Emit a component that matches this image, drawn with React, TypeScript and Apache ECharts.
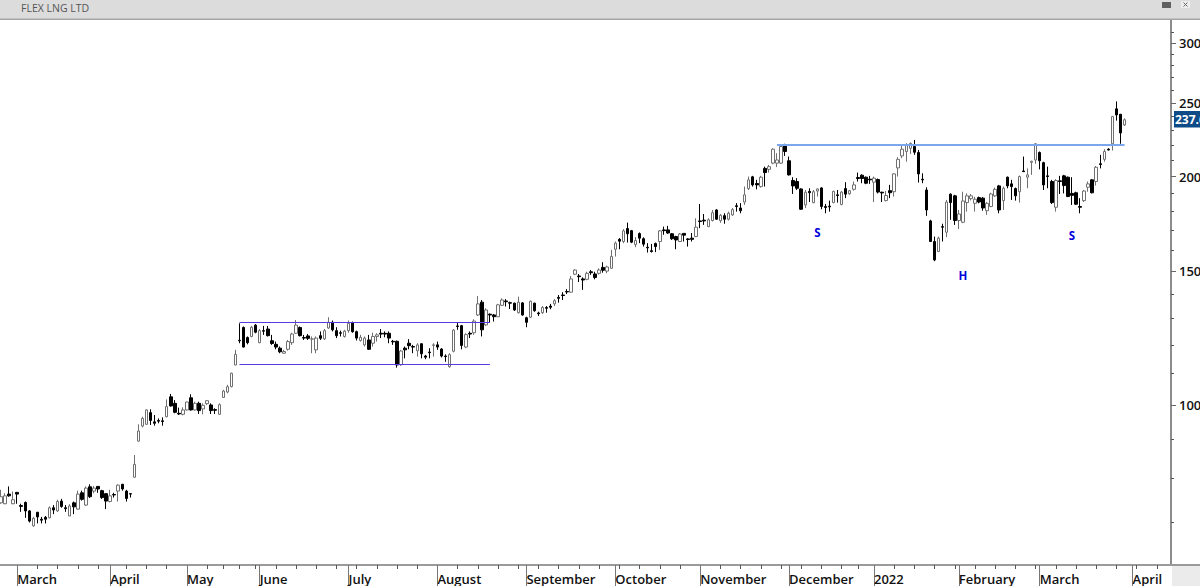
import React, { useEffect, useRef } from "react";
import * as echarts from "echarts";

const highs = [
  77.3,76.5,78.1,76.9,76.8,74.1,74.6,72.7,71.2,72.3,
  71.2,71.4,73.5,73.8,75,75.2,73.8,74,74.6,77.1,
  77.1,78.1,78.6,78.2,78.2,77.3,76.5,77.3,76.6,78.6,
  78.7,77.3,76.5,85.9,94.3,96.5,98.7,98.7,97,96,
  96.3,101.7,103.4,101.5,99.2,99.3,101,103.3,101,101,
  100.5,101.5,100.5,99,100.5,104.7,106.3,110.3,118.2,128.1,
  126.9,123.1,127.1,127.8,125.9,127.1,127.1,123.7,121.2,119.4,
  118.2,121.8,124.5,129.4,126.9,123.7,124,123.1,123.1,125,
  125.9,130.5,129.2,126.6,125.3,125.6,129.2,128.8,125.3,123.7,
  123.1,123.7,124.5,124.3,125.9,125,125,121.8,121.6,118.2,
  119.4,122.1,120,120.6,120.6,116.4,118.8,120.6,121.2,118.8,
  116.6,117,125.9,128.5,127.5,124.3,125,129.7,139.2,137.5,
  134.1,132,131.8,135.9,138.2,137.9,136.8,136.4,138.9,136.6,
  130.7,137.2,136.4,132.7,135,135,135.9,137.9,139.6,140.8,
  142.1,147.9,151,148.8,147.3,149.8,150.6,149.8,151.4,154.2,
  152.6,160.1,164.2,165.9,170.5,173.9,170.1,166.4,168.8,166.3,
  163.4,163,163.7,170.1,171.8,172.2,168.5,167.1,168.5,168.5,
  165.9,168.5,176.2,184,178.5,176.2,180.7,181.1,178.5,178.9,
  179.8,181.8,184.5,184.5,194,200,200.4,198,200.4,206.1,
  207.2,217.9,214.7,219.6,220.9,212.5,199.6,199,193,192,
  193,192,193,193.6,184,185.9,191.6,192,191.4,196.6,
  192,197,202.4,201.4,200,200.4,200,198.8,191,191.4,
  195,202,212.1,220.2,221.3,221.8,223.5,216.8,202,193.6,
  175.4,166.7,166.7,173.3,186.3,190,189.2,180.7,191,190,
  189.7,188,188.2,188,185.1,190.4,193.4,195,194,200,
  198,193.4,200.6,212.5,205,209.8,221.3,215.8,209.2,206.1,
  198,198.4,200.4,201,200,199.6,191,187.3,192,197,
  198.4,206.5,213.6,217.3,217.9,240.4,251.2,241.8,238.6,
];

const lows = [
  74.1,74,75.7,74,74.1,72.3,71,70,69.1,69.8,
  69.8,69.8,70.9,71.8,72.3,73.2,72.3,71.4,71.8,72.8,
  74.8,73.6,75.4,76.5,76.6,75.2,72.9,74.4,75.5,74.6,
  77.1,74.6,75.5,80.2,89.5,93.4,94.2,94.1,93.9,94.6,
  93.9,96.3,99.5,97.5,97,96.9,98.3,98.3,98.3,97.3,
  97.2,100,97.3,97.3,97,102.2,103.6,105.5,112.8,120.6,
  119.1,120.2,122.8,124.3,120.6,123.7,123.1,120,118.4,117,
  116.8,117.9,120,124,123.1,121.8,121.8,117,117,121.8,
  121.8,126,125,122.5,123.1,122.7,124.5,124.5,121.6,121.2,
  119.4,118.2,119.4,121.2,122.5,122.8,120.6,120,112,112.6,
  115.2,118.4,117,115.8,115.2,114.9,115.2,115.8,118.2,115.5,
  114,112,117.3,125.6,118.4,118.8,122.5,123.7,131,123.1,
  127.1,128.4,128.8,130.5,135,134.8,133.8,133,132,131.1,
  126.6,130.2,132.7,131,131.8,132.3,133.7,135,136.4,137.5,
  140,140.6,148.3,145.2,141.8,146,148.4,146.4,148.5,149.4,
  149.1,151.1,156.9,160.4,163.4,163.7,163.4,161.4,163.4,161.7,
  158.8,158.8,159,160.1,167.6,168.1,165,160.4,163.9,164.2,
  161.7,164.2,166.4,171,172.7,171.5,174.5,175.4,173.8,173.3,
  175,177.5,179.8,178.9,183.5,192,194,192.4,193.4,194,
  202.4,207.6,205.8,207.9,212.9,200.6,189.7,192,180.7,181.8,
  185.1,184.4,188.2,181.1,178.9,179.8,184.4,184.8,183.3,187.3,
  189.2,191.6,197,196,195.4,195.6,185.1,190,185.1,185.5,
  187.3,188.2,200,211.4,209.2,214.2,213.6,196.4,196,177.5,
  164.1,154.7,159,164.2,166.4,175.4,172.7,170.5,173.6,179.8,
  186,179.8,184.4,180.3,178,182.2,188,178.9,180.7,193,
  186.3,185.9,184.8,202.8,193,201,207.9,204.4,192,193,
  184,179.8,189.7,190,188,183.5,183.5,178.9,185.1,191,
  190,194.6,205,209.2,216.4,216.4,237,220.9,233.2,
];

const bodyTops = [
  75.7,75.9,76.3,75,76.7,73.7,74.4,72.5,70.9,72.2,
  70.7,71.1,73.2,73.2,74.6,74.7,73.2,73.6,74.3,76.3,
  76.6,77.7,78,77.7,78.1,77.1,76.4,75.9,76.2,78.4,
  78.6,77,76.4,83.5,92.4,96,98.5,97.7,95,95.4,
  95.3,99.5,102.5,100.5,97.5,98.5,100.9,102.2,100.5,100.5,
  99.9,101.3,100,98.6,100.1,104.3,105.7,110.1,116.6,121.7,
  126.5,122.7,126.6,127.4,125.3,125.3,125.9,121.5,120.2,118.8,
  117.6,121.2,124,127.4,126.5,122.7,123.3,122.2,122.5,123.4,
  125.3,128.5,128.5,125.3,124.5,125.1,128.1,128.4,124.9,122.8,
  122.5,121.8,123.1,123.7,124.3,124.3,124.3,121.3,121.3,117.8,
  118.8,120.6,119.4,120,120.4,116,117.4,120,120,118.5,
  116,116.5,125.5,127.1,127.2,123.8,124.3,129,135.9,136.6,
  133.4,131.7,131.4,135.5,137.5,137.1,136.4,136.2,136.6,136.3,
  130.3,137,136.2,132.2,134.4,134.4,135,137.2,138.6,139.6,
  141.1,146.6,150.6,147.9,146.6,149.1,149.8,148.8,150.6,151.8,
  152,156.9,163.4,165.3,169.6,170.8,169.7,164.7,168.2,165.6,
  161.4,159.7,163.2,169.6,170.1,170.1,168.1,166.7,168,168.3,
  165.5,165.9,171.5,174.8,175.2,175.4,179.2,180.7,177.8,177.6,
  178.9,180.9,183,181.8,189.2,198,199.8,195.8,199.6,205,
  206.1,217.3,210.3,219.1,220.2,209.8,197.6,197,192.6,190.7,
  191.2,191,192.6,193.2,182.6,182.8,191.2,189.2,190.8,192.8,
  191.6,195,199.4,200.8,199.6,198.4,199,198.2,190.7,188.8,
  191.6,201.6,210.7,217.3,220.2,221.1,219.1,215.1,198.4,192,
  174.8,164.2,165.9,171.8,185.1,189.6,188.6,178.5,185.7,188.6,
  188.6,186.7,187.6,187.3,184.4,189.7,192.4,194.4,193,199.6,
  195.6,192.8,200,203.4,201,209.5,220.9,215.1,208.6,200.4,
  197,197.6,197.4,200.4,199.6,190,190.4,182.6,191.4,195.6,
  198,205.7,207.9,215.8,217.3,239.9,245.6,241.6,237.6,
];

const bodyBottoms = [
  74.3,74.1,75.9,74.1,76.3,73.5,72.5,70.3,69.3,71.2,
  70.5,70.7,71,72.7,72.5,73.5,73,71.4,73.4,72.9,
  75.1,73.8,75.7,77,77.5,75.5,74.7,74.6,76.1,77,
  77.5,75.3,76.3,80.3,89.6,93.8,94.3,95.4,94.6,95.2,
  95.1,96.5,99.7,97.8,97.3,97.2,98.5,98.5,98.5,98.3,
  98.8,100.4,98.3,98.4,97.2,102.3,104,105.7,112.9,121.5,
  119.2,120.8,123.1,124.7,120.8,125.1,123.4,120.5,119.2,117.5,
  117,118.4,120.8,124.3,123.4,122.5,122.4,122.1,118.2,122.4,
  122.2,126.3,125.6,123.4,124.3,123.1,125.3,124.9,122.5,121.6,
  120,118.4,120.6,123.1,124,124,122.5,121.1,112.9,113,
  118.2,119.7,119.2,117.9,116.8,115.6,117.2,119.8,119.2,116,
  115.8,112.3,117.7,126.9,119.8,119.2,124,124.5,131.4,125.6,
  127.5,131.4,130.7,130.7,135.3,136.8,136.2,133.4,132.3,131.4,
  128.5,130.5,133.1,131.9,132.3,134.1,134.5,135.9,138.2,139.4,
  140.9,140.8,148.7,147.6,146.1,146.4,149.4,147.2,149.1,150.5,
  150.1,151.4,160.4,164.4,164.2,168.1,163.9,162.7,165.9,162.9,
  161.1,159.3,161.7,164.2,169.7,168.5,165.6,165,164.2,167.4,
  165.2,165.3,166.7,174.5,174.8,171.8,175,175.7,174.9,175.7,
  175.7,178,182.6,180.3,185.1,192.8,195,195,194,202.4,
  204.4,208.3,208.3,208.3,215.8,201,194.4,193,181.1,183.5,
  190.4,184.8,191.4,182.6,182.1,182.4,184.8,188.8,183.7,189.6,
  189.8,192.4,198.8,198.8,196,198,196.6,190.8,190.3,185.9,
  190.4,191,205.3,212.9,215.8,217.9,215.3,201.6,198,180.7,
  164.2,155.3,159.3,171.5,168.9,184.8,175,175,174.1,184.8,
  187,184.4,185.1,181.8,180.3,182.6,188.6,180.7,185.9,194.4,
  194,188.6,191,203,199.6,208.8,210.3,209.8,195,200,
  184.8,182.2,197,194.6,188.2,188.9,183.9,182.2,185.9,193.6,
  190.4,197,207.4,210.7,216.8,220.9,241.1,228.3,233.9,
];

// u = close above open (hollow), d = close below open (filled)
const directions =
  "uududdddud" + "ddududdudu" + "dududddudu" + "ddduuuuddd" + "duddduudud" +
  "uudduuuuud" + "ddududdddd" + "uuuuddduud" + "uuddduuddu" + "uduudddddu" +
  "dddudddudd" + "duudduduud" + "udduudddud" + "dudduddudd" + "duudduddud" +
  "uuududdudd" + "ddduddddud" + "ddudduudud" + "uudduuddud" + "uuuudddddu" +
  "duudddudud" + "uudddduddu" + "duuuuudddd" + "ddududduuu" + "uudduuudud" +
  "dduduuuddd" + "dudddddduu" + "dudududdu";

const slotCount = 290;
const monthTicks: Record<number, string> = {
  4: "March", 27: "April", 46: "May", 64: "June", 86: "July", 108: "August",
  130: "September", 152: "October", 173: "November", 195: "December",
  216: "2022", 237: "February", 257: "March", 280: "April",
};
const weekTicks = [
  9,14,19,24,31,36,41,51,55,59,63,68,73,78,83,88,93,98,103,113,118,123,128,133,138,
  143,148,153,158,163,168,178,183,188,193,198,203,208,212,221,226,231,236,241,246,
  251,256,261,266,271,276,281,286,
];
const priceLabels = [300, 250, 200, 150, 100];
const priceMinorTicks = [
  310,290,280,270,260,240,230,220,210,190,180,170,160,140,130,120,110,90,80,70,
];
const channelTop = 128.45;
const channelBottom = 113.1;
const necklinePrice = 220.2;
const patternLabels = [
  { name: "S", slot: 202, price: 168.6 },
  { name: "H", slot: 238, price: 147.9 },
  { name: "S", slot: 265, price: 167 },
];
const lastPriceText = "237.6";

const FONT = "'Open Sans', sans-serif";

export default function App() {
  const ref = useRef<HTMLDivElement>(null);

  useEffect(() => {
    const chart = echarts.init(ref.current!, null, { renderer: "svg", width: 1200, height: 586 });
    const categories = Array.from({ length: slotCount }, (_, i) => String(i));
    const candles = highs.map((h, i) =>
      directions[i] === "u"
        ? [bodyBottoms[i], bodyTops[i], lows[i], h]
        : [bodyTops[i], bodyBottoms[i], lows[i], h]
    );
    const weekSet = new Set(weekTicks);

    chart.setOption({
      animation: false,
      backgroundColor: "#ffffff",
      grid: { left: -1, top: 20, width: 1172, height: 545, containLabel: false, outerBoundsMode: "none" },
      xAxis: [
        {
          type: "category",
          data: categories,
          boundaryGap: true,
          position: "bottom",
          axisLine: { show: true, onZero: false, lineStyle: { color: "#9a9a9a", width: 2 } },
          axisTick: {
            show: true,
            alignWithLabel: true,
            length: 21,
            interval: (i: number) => monthTicks[i] !== undefined,
            lineStyle: { color: "#777777", width: 1 },
          },
          axisLabel: {
            show: true,
            interval: (i: number) => monthTicks[i] !== undefined,
            formatter: (v: string) => monthTicks[Number(v)] ?? "",
            align: "left",
            margin: 7,
            padding: [0, 0, 0, 0],
            color: "#111111",
            fontFamily: FONT,
            fontSize: 13,
            fontWeight: 600,
            hideOverlap: false,
          },
          splitLine: { show: false },
        },
        {
          type: "category",
          data: categories,
          boundaryGap: true,
          position: "bottom",
          axisLine: { show: false, onZero: false },
          axisTick: {
            show: true,
            alignWithLabel: true,
            length: 4,
            interval: (i: number) => weekSet.has(i),
            lineStyle: { color: "#555555", width: 1 },
          },
          axisLabel: { show: false },
          splitLine: { show: false },
        },
      ],
      yAxis: [
        {
          type: "log",
          logBase: 10,
          min: 61.53,
          max: 321.6,
          position: "right",
          axisLine: { show: true, onZero: false, lineStyle: { color: "#8c8c8c", width: 2 } },
          axisTick: { show: true, length: 5, customValues: priceLabels, lineStyle: { color: "#666666" } },
          minorTick: { show: false },
          axisLabel: {
            show: true,
            customValues: priceLabels,
            formatter: (v: number) => String(Math.round(v)),
            margin: 8,
            color: "#111111",
            fontFamily: FONT,
            fontSize: 13,
            fontWeight: 600,
          },
          splitLine: { show: false },
        },
        {
          type: "log",
          logBase: 10,
          min: 61.53,
          max: 321.6,
          position: "right",
          axisLine: { show: false, onZero: false },
          axisTick: { show: true, length: 3, customValues: priceMinorTicks, lineStyle: { color: "#555555" } },
          axisLabel: { show: false },
          splitLine: { show: false },
        },
      ],
      series: [
        {
          type: "candlestick",
          xAxisIndex: 0,
          yAxisIndex: 0,
          barWidth: 3,
          data: candles,
          itemStyle: {
            color: "#ffffff",
            color0: "#000000",
            borderColor: "#707070",
            borderColor0: "#000000",
            borderWidth: 1,
          },
          markLine: {
            silent: true,
            symbol: "none",
            animation: false,
            label: { show: false },
            data: [
              [
                { coord: ["59", channelTop], lineStyle: { color: "#5a3ae0", width: 1, type: "solid" } },
                { coord: ["121", channelTop] },
              ],
              [
                { coord: ["59", channelBottom], lineStyle: { color: "#5a3ae0", width: 1, type: "solid" } },
                { coord: ["121", channelBottom] },
              ],
              [
                { coord: ["192", necklinePrice], lineStyle: { color: "#7ba7ee", width: 2, type: "solid" } },
                { coord: ["278", necklinePrice] },
              ],
            ],
          },
          markPoint: {
            silent: true,
            symbol: "circle",
            symbolSize: 1,
            itemStyle: { color: "transparent" },
            label: {
              show: true,
              position: "inside",
              formatter: (p: any) => p.name,
              color: "#0000dd",
              fontFamily: FONT,
              fontSize: 11.5,
              fontWeight: "bold",
            },
            data: patternLabels.map((l) => ({ name: l.name, coord: [String(l.slot), l.price] })),
          },
        },
      ],
      graphic: [
        { type: "rect", z: 100, shape: { x: 0, y: 0, width: 1200, height: 19 }, style: { fill: "#dcdcdc" } },
        { type: "rect", z: 100, shape: { x: 0, y: 18.5, width: 1200, height: 1.5 }, style: { fill: "#a6a6a6" } },
        {
          type: "text", z: 101, x: 21, y: 8,
          style: { text: "FLEX LNG LTD", fill: "#555555", font: `10.5px ${FONT}`, textVerticalAlign: "middle" },
        },
        { type: "rect", z: 101, shape: { x: 1162, y: 2, width: 9, height: 6 }, style: { fill: "#5f5f5f" } },
        { type: "rect", z: 101, shape: { x: 1181, y: 1, width: 9, height: 7 }, style: { fill: "#eeeeee" } },
        { type: "line", z: 102, shape: { x1: 1183.5, y1: 2.5, x2: 1187.5, y2: 6.5 }, style: { stroke: "#666666", lineWidth: 1 } },
        { type: "line", z: 102, shape: { x1: 1187.5, y1: 2.5, x2: 1183.5, y2: 6.5 }, style: { stroke: "#666666", lineWidth: 1 } },
        { type: "rect", z: 100, shape: { x: 1172, y: 566, width: 28, height: 20 }, style: { fill: "#ebebeb" } },
        { type: "rect", z: 100, shape: { x: 1171, y: 564, width: 29, height: 2 }, style: { fill: "#9a9a9a" } },
        { type: "rect", z: 100, shape: { x: 1174, y: 111, width: 26, height: 16.5 }, style: { fill: "#0f4c87" } },
        {
          type: "text", z: 101, x: 1175, y: 119.5,
          style: { text: lastPriceText, fill: "#ffffff", font: `bold 12px ${FONT}`, textVerticalAlign: "middle" },
        },
      ],
    });

    return () => chart.dispose();
  }, []);

  return (
    <div
      ref={ref}
      style={{ position: "fixed", left: 0, top: 0, width: 1200, height: 586, overflow: "hidden", background: "#fff" }}
    />
  );
}
